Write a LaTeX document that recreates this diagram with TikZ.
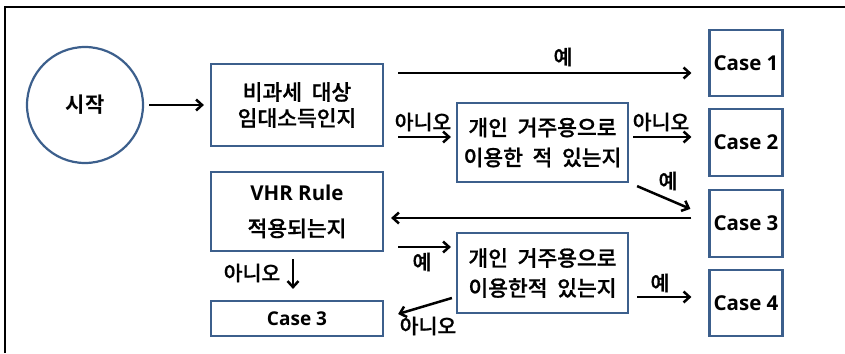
\documentclass[tikz,border=0pt]{standalone}
\usepackage{fontspec}
\setmainfont{Noto Sans CJK KR Medium}[WordSpace=2.0,FakeBold=0.8]
\newfontfamily\krbold{Noto Sans CJK KR Bold}
\newfontfamily\caseft{Open Sans}
\usetikzlibrary{arrows.meta}
\definecolor{boxblue}{RGB}{60,95,140}
\tikzset{
  box/.style={draw=boxblue, line width=2.2pt, rectangle, inner sep=0pt, align=center,
    font=\fontsize{21.5}{30}\selectfont},
  casebox/.style={box, minimum width=73pt, font=\caseft\bfseries\fontsize{20.5}{22}\selectfont},
  arr/.style={line width=2.5pt, -{Straight Barb[length=6pt,width=11pt,line width=2.5pt]}},
  lbl/.style={font=\fontsize{20.5}{22}\selectfont, inner sep=0pt},
}
\begin{document}
\begin{tikzpicture}[x=1pt,y=-1pt]
\useasboundingbox (0,0) rectangle (845,353);
\draw[line width=1.4pt] (5,353) -- (5,7) -- (845,7);
\node[draw=boxblue, line width=2.2pt, circle, minimum size=116pt, inner sep=0pt,
  font=\krbold\fontsize{21}{22}\selectfont] (start) at (85,105) {시작};
\node[box, minimum width=172pt, minimum height=82pt] (A) at (297,105) {비과세 대상\\[-4pt]임대소득인지};
\node[box, minimum width=172pt, minimum height=79pt] (V) at (297,211.5) {{\caseft\bfseries\fontsize{20.5}{22}\selectfont VHR Rule}\\[6pt]적용되는지};
\node[box, minimum width=172pt, minimum height=35pt, font=\caseft\bfseries\fontsize{19}{20}\selectfont] (C3L) at (297,318.5) {Case 3};
\node[box, minimum width=171pt, minimum height=79pt] (M1) at (542.5,142.5) {개인 거주용으로\\이용한 적 있는지};
\node[box, minimum width=171pt, minimum height=80pt] (M2) at (542.5,273) {개인 거주용으로\\이용한적 있는지};
\node[casebox, minimum height=66pt] (C1) at (746,63) {Case 1};
\node[casebox, minimum height=67pt] (C2) at (746,142.5) {Case 2};
\node[casebox, minimum height=67pt] (C3) at (746,223.5) {Case 3};
\node[casebox, minimum height=66pt] (C4) at (746,303) {Case 4};
% connectors
\draw[arr, shorten <=5pt, shorten >=6pt] (start.east) -- (A.west);
\draw[arr, shorten <=14pt, shorten >=17pt] ([yshift=32pt]A.east) -- ([yshift=-10pt]C1.west);
\draw[arr, shorten <=14pt, shorten >=5pt] ([yshift=-32pt]A.east) -- ([yshift=5.5pt]M1.west);
\draw[arr, shorten <=4pt, shorten >=17pt] ([yshift=5.5pt]M1.east) -- ([yshift=5.5pt]C2.west);
\draw[arr] ([xshift=8pt,yshift=-3pt]M1.south east) -- ([xshift=-18pt,yshift=-20pt]C3.north west);
\draw[arr, shorten <=17pt, shorten >=7pt] ([yshift=5.5pt]C3.west) -- ([yshift=-6.5pt]V.east);
\draw[arr, shorten <=14pt, shorten >=5pt] ([yshift=-35.5pt]V.east) -- ([yshift=26pt]M2.west);
\draw[arr, shorten <=7pt, shorten >=11pt] ([xshift=-4pt]V.south) -- ([xshift=-4pt]C3L.north);
\draw[arr] ([xshift=-4pt,yshift=-25pt]M2.west) -- ([xshift=14pt,yshift=4.5pt]C3L.east);
\draw[arr, shorten <=8pt, shorten >=17pt] ([yshift=-24pt]M2.east) -- ([yshift=6pt]C4.west);
% labels
\node[lbl] (l1) at (563,57) {예};
\node[lbl] (l2) at (423,122) {아니오};
\node[lbl] (l3) at (661,122) {아니오};
\node[lbl] (l4) at (668,181) {예};
\node[lbl] (l5) at (422,262) {예};
\node[lbl] (l6) at (252,273) {아니오};
\node[lbl] (l7) at (428,326) {아니오};
\node[lbl] (l8) at (660,283) {예};
\end{tikzpicture}
\end{document}
